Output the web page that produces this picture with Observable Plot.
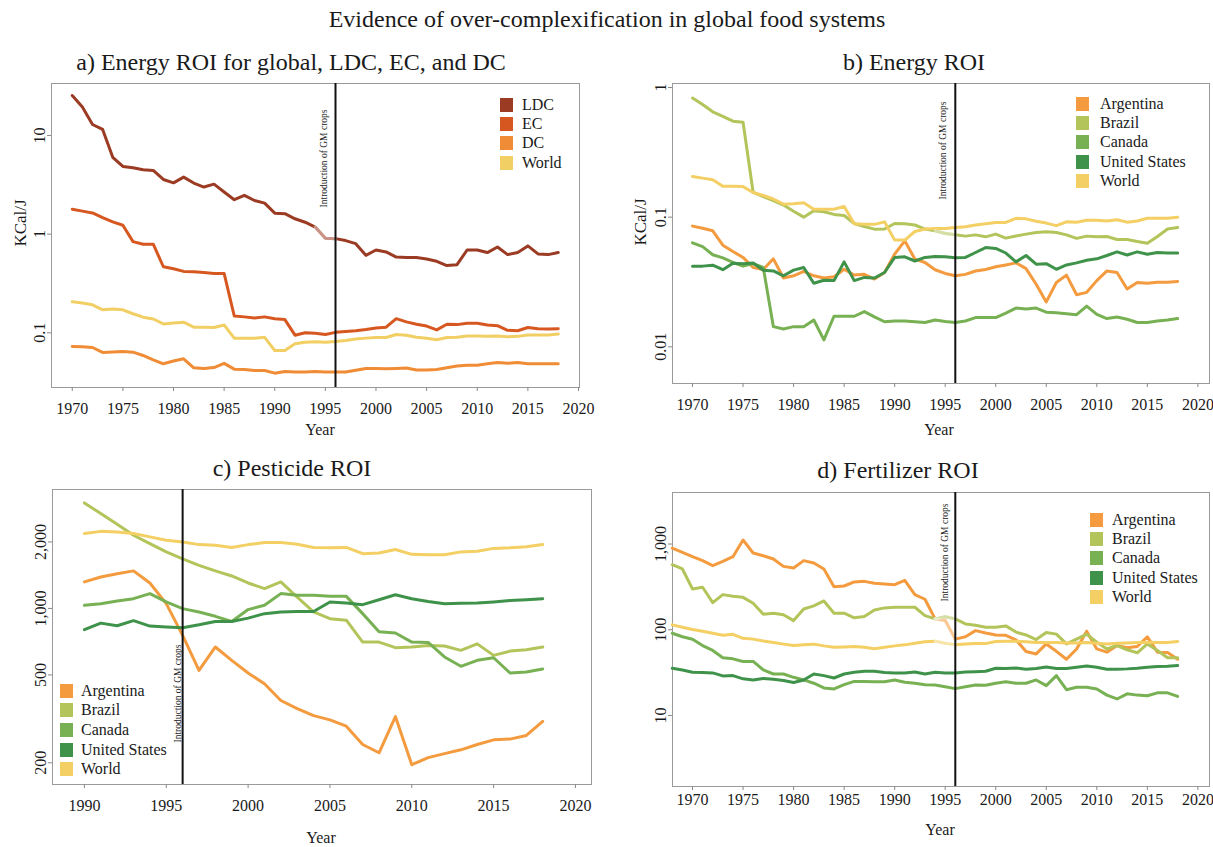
<!DOCTYPE html>
<html><head><meta charset="utf-8">
<script src="https://cdn.jsdelivr.net/npm/d3@7"></script>
<script src="https://cdn.jsdelivr.net/npm/@observablehq/plot@0.6"></script>
<style>
body{margin:0;background:#fff;}
#root{position:relative;width:1213px;height:847px;font-family:"Liberation Serif","Times New Roman",serif;color:#1a1a1a;overflow:hidden;background:#fff}
.abs{position:absolute;white-space:nowrap;transform:translate(-50%,-50%);line-height:1}
.panel{position:absolute}
.legend{position:absolute;font-size:16px}
.legend .item{display:flex;align-items:center}
.legend .sw{display:inline-block}
</style></head><body><div id="root"></div><script>
// ---------------- DATA ----------------
const YEARS_1970 = [1970,1971,1972,1973,1974,1975,1976,1977,1978,1979,1980,1981,1982,1983,1984,1985,1986,1987,1988,1989,1990,1991,1992,1993,1994,1995,1996,1997,1998,1999,2000,2001,2002,2003,2004,2005,2006,2007,2008,2009,2010,2011,2012,2013,2014,2015,2016,2017,2018];
const YEARS_1990 = [1990,1991,1992,1993,1994,1995,1996,1997,1998,1999,2000,2001,2002,2003,2004,2005,2006,2007,2008,2009,2010,2011,2012,2013,2014,2015,2016,2017,2018];
const YEARS_1968 = [1968,1969,1970,1971,1972,1973,1974,1975,1976,1977,1978,1979,1980,1981,1982,1983,1984,1985,1986,1987,1988,1989,1990,1991,1992,1993,1994,1995,1996,1997,1998,1999,2000,2001,2002,2003,2004,2005,2006,2007,2008,2009,2010,2011,2012,2013,2014,2015,2016,2017,2018];

const GM_YEAR = 1996;
const GM_LABEL = "Introduction of GM crops";

// a) Energy ROI, global / LDC / EC / DC (KCal/J)
const SERIES_A = ["LDC", "EC", "DC", "World"];
const COLORS_A = ["#9b3b23", "#d75720", "#ef8c35", "#f2cf64"];
const ldcA = [25.4,19.4,12.9,11.5,6.0,4.85,4.7,4.49,4.42,3.58, 3.31,3.78,3.29,3.0,3.21,2.67,2.23,2.47,2.19,2.06, 1.63,1.61,1.43,1.32,1.18,0.91,0.90,0.86,0.80,0.61, 0.69,0.66,0.585,0.58,0.58,0.56,0.53,0.48,0.49,0.69, 0.69,0.65,0.74,0.62,0.65,0.76,0.63,0.62,0.65];
const ecA = [1.79,1.71,1.64,1.47,1.33,1.23,0.84,0.79,0.79,0.467, 0.446,0.419,0.415,0.408,0.40,0.40,0.148,0.145,0.141,0.145, 0.139,0.136,0.0946,0.100,0.099,0.096,0.101,0.103,0.105,0.108, 0.112,0.114,0.139,0.129,0.122,0.117,0.107,0.122,0.121,0.125, 0.125,0.120,0.118,0.106,0.105,0.113,0.110,0.109,0.110];
const dcA = [0.0726,0.0720,0.071,0.0632,0.064,0.0645,0.0636,0.0589,0.0532,0.0485, 0.0517,0.0545,0.0442,0.0434,0.0444,0.049,0.0428,0.0425,0.0415,0.0415, 0.039,0.0405,0.040,0.040,0.0405,0.040,0.040,0.040,0.0418,0.0435, 0.0435,0.0432,0.0435,0.044,0.042,0.042,0.0425,0.0442,0.046,0.047, 0.047,0.0485,0.050,0.049,0.050,0.0485,0.0485,0.0485,0.0485];
const worldA = [0.206,0.200,0.192,0.171,0.174,0.171,0.156,0.144,0.138,0.123, 0.126,0.128,0.114,0.114,0.113,0.120,0.0883,0.088,0.088,0.090, 0.0662,0.066,0.0775,0.0804,0.081,0.0804,0.0816,0.0835,0.0863,0.0883, 0.0897,0.0897,0.0962,0.0946,0.090,0.088,0.085,0.0897,0.090,0.093, 0.093,0.092,0.093,0.091,0.092,0.095,0.095,0.095,0.097];

// countries (b, c, d)
const SERIES_C = ["Argentina", "Brazil", "Canada", "United States", "World"];
const COLORS_C = ["#f39b3e", "#b3c45a", "#78b153", "#3f924a", "#f3cf64"];

// b) Energy ROI (KCal/J)
const argB = [0.0853,0.0822,0.0785,0.0608,0.0543,0.0489,0.0409,0.0395,0.0477,0.0339, 0.0353,0.0381,0.0353,0.0339,0.0347,0.0396,0.0358,0.0362,0.0333,0.0374, 0.0519,0.0657,0.0475,0.0447,0.0393,0.0368,0.0353,0.0362,0.0384,0.0395, 0.0414,0.0428,0.0444,0.0401,0.0304,0.0222,0.0313,0.0357,0.0252,0.0263, 0.0324,0.0385,0.0374,0.0279,0.0313,0.0309,0.0315,0.0315,0.0319];
const brzB = [0.83,0.74,0.65,0.60,0.55,0.54,0.155,0.144,0.134,0.124, 0.111,0.100,0.112,0.11,0.105,0.103,0.0894,0.0848,0.0808,0.081, 0.0894,0.089,0.087,0.081,0.0785,0.0748,0.0731,0.0714,0.073,0.0705, 0.074,0.0689,0.0716,0.074,0.0762,0.077,0.0762,0.073,0.0686,0.0714, 0.0705,0.071,0.0673,0.0673,0.065,0.063,0.071,0.081,0.0832];
const canB = [0.0634,0.0592,0.0513,0.0485,0.0447,0.0419,0.0438,0.0409,0.0143,0.0137, 0.0143,0.0143,0.0161,0.0113,0.0172,0.0172,0.0172,0.0187,0.0170,0.0156, 0.0158,0.0158,0.0156,0.0154,0.0161,0.0157,0.0154,0.0158,0.0168,0.0168, 0.0168,0.0182,0.0199,0.0196,0.0199,0.0185,0.0183,0.0180,0.0177,0.0206, 0.0178,0.0165,0.0170,0.0163,0.0154,0.0154,0.0158,0.0161,0.0165];
const usB = [0.0419,0.0419,0.0426,0.0393,0.0441,0.0438,0.0443,0.039,0.0385,0.0353, 0.039,0.0409,0.0309,0.0326,0.0324,0.0452,0.0324,0.0343,0.0339,0.0374, 0.0489,0.0494,0.0459,0.0489,0.0497,0.0494,0.0486,0.0489,0.0534,0.0583, 0.0574,0.0529,0.0452,0.0506,0.0434,0.0438,0.0396,0.0428,0.0444,0.0465, 0.0477,0.0506,0.054,0.0511,0.054,0.0518,0.0534,0.0529,0.0529];
const worldB = [0.206,0.20,0.194,0.173,0.173,0.172,0.155,0.147,0.138,0.126, 0.127,0.129,0.115,0.115,0.115,0.121,0.089,0.088,0.088,0.092, 0.0665,0.0665,0.0775,0.081,0.0817,0.0817,0.0832,0.0842,0.087,0.089, 0.091,0.091,0.098,0.097,0.093,0.090,0.086,0.092,0.0915,0.0945, 0.0945,0.0935,0.0955,0.0915,0.0935,0.098,0.098,0.098,0.100];

// c) Pesticide ROI
const argC = [1318,1387,1436,1479,1303,1051,755,524,669,582, 510,456,383,352,327,313,293,242,222,324, 196,211,220,229,242,254,256,266,308];
const brzC = [3005,2687,2404,2144,1965,1803,1676,1567,1479,1403, 1304,1230,1318,1126,964,899,885,704,704,664, 669,680,676,646,691,613,641,650,669];
const canC = [1033,1051,1081,1107,1167,1070,998,964,921,873, 988,1033,1167,1147,1147,1134,1134,947,785,774, 704,701,603,547,582,598,510,515,532];
const usC = [801,858,835,880,832,824,818,843,873,873, 904,947,964,968,968,1070,1058,1040,1095,1153, 1107,1076,1051,1055,1058,1070,1085,1095,1107];
const worldC = [2182,2233,2220,2182,2108,2035,2000,1945,1931,1888, 1945,1986,1986,1952,1888,1881,1888,1770,1783,1849, 1757,1751,1751,1803,1816,1870,1881,1901,1945];

// d) Fertilizer ROI
const argD = [898,800,712,640,560,628,712,1113,786,731, 669,549,525,640,600,512,318,324,361,367, 348,342,336,377,257,227,134,128,77.8,82.9, 97.7,91.9,87.0,86.3,76.3,55.7,52.3,68.4,56.1,45.3, 59.8,96.3,59.8,54.8,65.5,61.6,63.8,83,54.8,54.3, 45.3];
const brzD = [574,512,299,313,207,257,246,239,204,152, 156,150,128,175,190,217,156,156,138,143, 170,180,183,183,183,146,134,142,134,117, 113,107,107,111,94,87,77,93,89,68.4, 77.8,89,71.5,59.8,65.5,58.4,53.9,68.4,57.4,47.2, 47.2];
const canD = [91,83,77.4,65.5,57.4,47.2,45.8,42.7,42.7,34.0, 30.5,30.5,27.9,26.0,23.8,21.0,20.4,22.9,25.0,25.0, 24.8,24.8,26.0,24.4,23.8,22.9,22.7,21.7,20.6,21.7, 22.7,22.5,23.8,24.8,23.8,23.8,26.0,22.3,29.2,20.0, 21.4,21.4,20.4,17.3,15.6,17.9,17.3,17.0,18.4,18.4, 16.7];
const usD = [35.6,34.0,31.9,31.7,31.4,29.0,29.2,26.8,26.0,27.1, 26.5,25.6,24.3,26.0,30.5,29.2,27.4,30.5,31.9,32.8, 32.8,31.7,31.4,31.4,32.2,30.5,31.9,31.4,31.4,32.2, 32.5,32.8,35.6,35.3,35.9,34.7,35.3,36.9,35.3,35.3, 36.6,37.9,36.6,34.7,34.7,35,35.6,36.6,37.3,37.6, 38.2];
const worldD = [114,107,101,96.3,91,86.3,88.6,79.6,77.8,74.0, 70.9,68.0,65.5,66.7,68.0,64.9,62.5,63.1,63.8,62.5, 60.1,62.5,64.9,66.7,69.7,72.4,73.7,69.7,67.1,68.4, 69,69,73,73.7,73.7,72.4,70.9,70.9,70.9,70.3, 70.3,70.9,69.7,68.4,69.7,70.3,70.9,71.5,70.9,70.9, 73];

// tick labels
const X_TICKS_1970 = [1970,1975,1980,1985,1990,1995,2000,2005,2010,2015,2020];
const X_TICKS_1990 = [1990,1995,2000,2005,2010,2015,2020];
const Y_TICKS_A = [0.1, 1, 10];
const Y_TICKS_B = [0.01, 0.1, 1];
const Y_TICKS_C = [200, 500, 1000, 2000];
const Y_TICKS_D = [10, 100, 1000];

const FADE_YEARS = [1994, 1996];

// ---------------- BUILD ----------------
const FONT = '"Liberation Serif","Times New Roman",serif';
function rows(years, names, arrays) {
  const out = [];
  names.forEach((n, k) => arrays[k].forEach((v, i) => out.push({year: years[i], value: v, series: n})));
  return out;
}
const dataA = rows(YEARS_1970, SERIES_A, [ldcA, ecA, dcA, worldA]);
const dataB = rows(YEARS_1970, SERIES_C, [argB, brzB, canB, usB, worldB]);
const dataC = rows(YEARS_1990, SERIES_C, [argC, brzC, canC, usC, worldC]);
const dataD = rows(YEARS_1968, SERIES_C, [argD, brzD, canD, usD, worldD]);

const root = document.getElementById("root");
function addText(txt, x, y, size, extra = "") {
  const d = document.createElement("div");
  d.className = "abs";
  d.textContent = txt;
  d.style.cssText = `left:${x}px;top:${y}px;font-size:${size}px;${extra}`;
  if (extra.includes("rotate")) d.style.transform = "translate(-50%,-50%) rotate(-90deg)";
  root.appendChild(d);
}

function panel(o) {
  const faded = o.data.filter(d => o.faded.includes(d.series) && d.year >= FADE_YEARS[0] && d.year <= FADE_YEARS[1]);
  const chart = Plot.plot({
    width: o.width, height: o.height,
    marginLeft: o.ml, marginRight: o.mr, marginTop: o.mt, marginBottom: o.mb,
    style: {fontFamily: FONT, fontSize: "16px", background: "transparent", overflow: "visible", color: "#1a1a1a"},
    x: {type: "linear", domain: o.xDomain, label: null},
    y: {type: "log", domain: o.yDomain, label: null},
    color: {domain: o.names, range: o.colors},
    marks: [
      Plot.frame({stroke: "#9a9a9a", strokeWidth: 1}),
      Plot.axisX({ticks: o.xTicks, tickFormat: d => String(d), tickSize: 4, tickPadding: o.xPad, stroke: "#888", label: null}),
      Plot.axisY({ticks: o.yTicks, tickFormat: o.yFormat, tickRotate: -90, tickSize: 4, tickPadding: 3, stroke: "#888", label: null}),
      Plot.lineY(o.data, {x: "year", y: "value", z: "series", stroke: "series", strokeWidth: 3, strokeLinejoin: "round", strokeLinecap: "round"}),
      Plot.lineY(faded, {x: "year", y: "value", z: "series", stroke: "white", strokeOpacity: 0.45, strokeWidth: 3.2, strokeLinejoin: "round"}),
      Plot.ruleX([GM_YEAR], {stroke: "#111", strokeWidth: 2}),
      Plot.text([GM_LABEL], {x: () => GM_YEAR, text: d => d, frameAnchor: o.gm.anchor, textAnchor: o.gm.textAnchor,
        rotate: -90, lineAnchor: "middle", dx: o.gm.dx, dy: o.gm.dy, fontSize: 9.5, fill: "#222", fontFamily: FONT})
    ]
  });
  const wrap = document.createElement("div");
  wrap.className = "panel";
  wrap.style.left = o.left + "px";
  wrap.style.top = o.top + "px";
  wrap.appendChild(chart);
  root.appendChild(wrap);

  const lg = document.createElement("div");
  lg.className = "legend";
  lg.style.left = o.legend.left + "px";
  lg.style.top = o.legend.top + "px";
  o.names.forEach((n, i) => {
    const it = document.createElement("div");
    it.className = "item";
    it.style.height = o.legend.row + "px";
    const sw = document.createElement("span");
    sw.className = "sw";
    sw.style.cssText = `width:13px;height:14px;background:${o.colors[i]};margin-right:${o.legend.gap}px`;
    const t = document.createElement("span");
    t.textContent = n;
    it.appendChild(sw); it.appendChild(t);
    lg.appendChild(it);
  });
  root.appendChild(lg);
}

const fmtPlain = d => String(d);
const fmtComma = d3.format(",");

addText("Evidence of over-complexification in global food systems", 607, 19, 24);
addText("a) Energy ROI for global, LDC, EC, and DC", 291, 62, 24);
addText("b) Energy ROI", 914, 62, 24);
addText("c) Pesticide ROI", 292, 468, 24);
addText("d) Fertilizer ROI", 898, 470, 24);

panel({data: dataA, names: SERIES_A, colors: COLORS_A, left: 0, top: 75, width: 590, height: 352,
  ml: 51, mr: 11, mt: 8, mb: 40, xDomain: [1967.95, 2020.1], yDomain: [0.0279, 33.6],
  xTicks: X_TICKS_1970, yTicks: Y_TICKS_A, yFormat: fmtPlain, xPad: 11, faded: ["LDC"],
  gm: {anchor: "top", textAnchor: "end", dx: -12, dy: 26},
  legend: {left: 500, top: 95, row: 19.3, gap: 9}});

panel({data: dataB, names: SERIES_C, colors: COLORS_C, left: 610, top: 75, width: 603, height: 348,
  ml: 62, mr: 4, mt: 8, mb: 40, xDomain: [1968.02, 2021.15], yDomain: [0.00521, 1.074],
  xTicks: X_TICKS_1970, yTicks: Y_TICKS_B, yFormat: fmtPlain, xPad: 11, faded: ["Brazil"],
  gm: {anchor: "top", textAnchor: "end", dx: -12, dy: 18},
  legend: {left: 1076, top: 94, row: 19.3, gap: 11}});

panel({data: dataC, names: SERIES_C, colors: COLORS_C, left: 0, top: 481, width: 600, height: 348,
  ml: 52, mr: 9, mt: 8, mb: 45, xDomain: [1988.05, 2020.98], yDomain: [159.5, 3455],
  xTicks: X_TICKS_1990, yTicks: Y_TICKS_C, yFormat: fmtComma, xPad: 11, faded: [],
  gm: {anchor: "bottom", textAnchor: "start", dx: -5, dy: -42},
  legend: {left: 60, top: 681, row: 19.6, gap: 8}});

panel({data: dataD, names: SERIES_C, colors: COLORS_C, left: 610, top: 484, width: 603, height: 342,
  ml: 62, mr: 4, mt: 8, mb: 40, xDomain: [1968.02, 2021.15], yDomain: [1.487, 3990],
  xTicks: X_TICKS_1970, yTicks: Y_TICKS_D, yFormat: fmtComma, xPad: 3, faded: ["Argentina", "Brazil", "World"],
  gm: {anchor: "top", textAnchor: "end", dx: -10, dy: 11},
  legend: {left: 1090, top: 510, row: 19.3, gap: 9}});

addText("KCal/J", 20, 223, 17, "rotate");
addText("KCal/J", 640, 222, 17, "rotate");
addText("Year", 320, 430, 16);
addText("Year", 939, 430, 16);
addText("Year", 321, 838, 16);
addText("Year", 940, 830, 16);
</script></body></html>
